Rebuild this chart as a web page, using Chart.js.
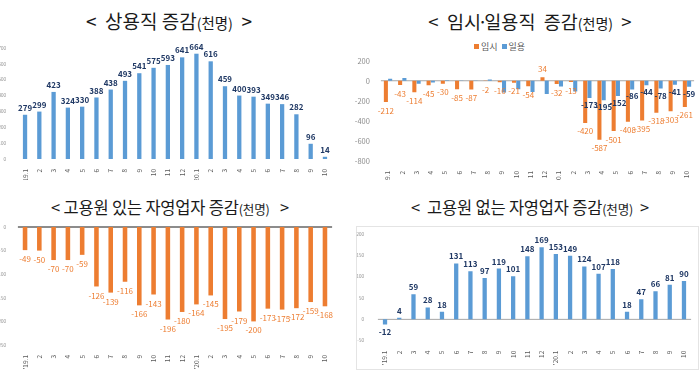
<!DOCTYPE html>
<html><head><meta charset="utf-8">
<script src="https://cdn.jsdelivr.net/npm/chart.js@4.4.0/dist/chart.umd.min.js"></script>
<style>
body{margin:0;width:700px;height:378px;background:#fff;position:relative;overflow:hidden;font-family:'Noto Sans CJK KR','Noto Sans',sans-serif;}
canvas{position:absolute;}
.title{position:absolute;white-space:nowrap;color:#1a1a1a;transform:translateX(-50%);line-height:22px;}
.title small{font-size:0.76em;}
.dot{display:inline-block;margin:0 -3.5px;}
.legend{position:absolute;top:42px;left:474px;font-size:9px;color:#595959;white-space:nowrap;line-height:10px;}
.legend i{display:inline-block;width:5px;height:5px;margin-right:2px;vertical-align:1px;}
.box{position:absolute;left:356px;top:226px;width:341px;height:142px;border:1px solid #e4e4e4;}
</style></head>
<body>
<div class="title" style="left:169px;top:10px;font-size:19px;">&lt;&nbsp;&nbsp;상용직&nbsp;증감<small>(천명)</small>&nbsp;&nbsp;&gt;</div>
<div class="title" style="left:530px;top:10px;font-size:18.5px;">&lt;&nbsp;&nbsp;임시<span class="dot">·</span>일용직&nbsp;&nbsp;증감<small>(천명)</small>&nbsp;&nbsp;&gt;</div>
<div class="title" style="left:170px;top:196px;font-size:16.5px;letter-spacing:-0.2px;">&lt;&nbsp;고용원 있는 자영업자 증감<small>(천명)</small>&nbsp;&nbsp;&nbsp;&gt;</div>
<div class="title" style="left:530px;top:196px;font-size:16.5px;letter-spacing:-0.2px;">&lt;&nbsp;&nbsp;고용원 없는 자영업자 증감<small>(천명)</small>&nbsp;&nbsp;&gt;</div>
<div class="box"></div>
<div class="legend"><i style="background:#ED7D31"></i>임시&nbsp;&nbsp;<i style="background:#5B9BD5"></i>일용</div>
<canvas id="c1" width="345" height="140" style="left:0;top:40px"></canvas>
<canvas id="c2" width="350" height="140" style="left:350px;top:40px"></canvas>
<canvas id="c3" width="345" height="163" style="left:0;top:215px"></canvas>
<canvas id="c4" width="350" height="163" style="left:350px;top:215px"></canvas>
<script>
// ---- data ----
const months = ["'19.1","2","3","4","5","6","7","8","9","10","11","12","'20.1","2","3","4","5","6","7","8","9","10"];
const regular = [279,299,423,324,330,388,438,493,541,575,593,641,664,616,459,400,393,349,346,282,96,14];
const temporary = [-212,-43,-114,-45,-30,-85,-87,-2,-16,-21,-54,34,-32,-13,-420,-587,-501,-408,-395,-318,-303,-261];
const daily = [20,27,-30,-17,5,-2,-3,12,-118,-85,-113,-133,-57,-107,-173,-195,-152,-86,-44,-78,-41,-59];
const selfWithEmp = [-49,-50,-70,-70,-59,-126,-139,-116,-166,-143,-196,-180,-164,-145,-195,-179,-200,-173,-175,-172,-159,-168];
const selfNoEmp = [-12,4,59,28,18,131,113,97,119,101,148,169,153,149,124,107,118,18,47,66,81,90];
const yTicks1 = [0,700,100];
const yTicks2 = [-800,200,200];
const yTicks3 = [-250,0,50];
const yTicks4 = [-50,200,50];

const BLUE = '#5B9BD5', ORANGE = '#ED7D31', NAVY = '#1F3864';
const FONT = "'Noto Sans CJK KR','Noto Sans',sans-serif";

const valueLabels = {
  id:'valueLabels',
  beforeDatasetsDraw(chart){
    const z = chart.options.zeroLine; if(!z) return;
    const ctx = chart.ctx, a = chart.chartArea;
    const y = chart.scales.y.getPixelForValue(0);
    ctx.save();
    ctx.strokeStyle = z.color; ctx.lineWidth = z.width;
    ctx.beginPath(); ctx.moveTo(a.left, y); ctx.lineTo(a.right, y); ctx.stroke();
    ctx.restore();
  },
  afterDatasetsDraw(chart){
    const ctx = chart.ctx;
    chart.data.datasets.forEach((ds,di)=>{
      const cfg = ds.valueLabel; if(!cfg) return;
      const meta = chart.getDatasetMeta(di);
      meta.data.forEach((el,i)=>{
        if(cfg.show && !cfg.show(i)) return;
        const v = ds.data[i];
        const y = v >= 0 ? el.y - cfg.offset : el.y + cfg.offset;
        ctx.save();
        ctx.font = cfg.font; ctx.fillStyle = cfg.color;
        ctx.textAlign = 'center'; ctx.textBaseline = 'middle';
        ctx.fillText(String(v), el.x + (cfg.dx||0), y);
        ctx.restore();
      });
    });
  }
};

function build(id, datasets, yr, opt){
  new Chart(document.getElementById(id), {
    type:'bar',
    data:{labels:months, datasets},
    options:{
      responsive:false, animation:false, devicePixelRatio:1,
      zeroLine: opt.zero ? {color:opt.zero, width:opt.zeroW||1} : null,
      layout:{padding:{left:0, top:opt.top, right:opt.right, bottom:0}},
      plugins:{legend:{display:false}, tooltip:{enabled:false}},
      scales:{
        x:{
          grid:{display:false}, border:{display:false},
          ticks:{color:'#595959', font:{family:FONT,size:6.5}, minRotation:90, maxRotation:90, autoSkip:false, padding:opt.xpad||2},
          afterFit:(s)=>{s.height = opt.xh;}
        },
        y:{
          min:yr[0], max:yr[1],
          grid:{display:false},
          border:{display:false},
          ticks:{stepSize:yr[2], color:'#8c8c8c', font:{family:FONT,size:opt.yfs}, padding:opt.ypad},
          afterFit:(s)=>{s.width = opt.yw;}
        }
      }
    },
    plugins:[valueLabels]
  });
}

build('c1', [{data:regular, backgroundColor:BLUE, barPercentage:0.3, categoryPercentage:1,
  valueLabel:{font:"bold 8px "+FONT, color:NAVY, offset:7}}],
  yTicks1, {top:8, right:12.9, xh:21, yw:17.9, yfs:4.5, ypad:4});

build('c2', [
  {data:temporary, backgroundColor:ORANGE, barPercentage:0.95, categoryPercentage:0.6,
    valueLabel:{font:"8px "+FONT, color:ORANGE, offset:8.5}},
  {data:daily, backgroundColor:BLUE, barPercentage:0.95, categoryPercentage:0.6,
    valueLabel:{font:"bold 8px "+FONT, color:NAVY, offset:7, show:(i)=>i>=14}}
], yTicks2, {top:20.7, right:5.9, xh:19, yw:30.9, yfs:7.5, ypad:3, zero:'#a6a6a6'});

build('c3', [{data:selfWithEmp, backgroundColor:ORANGE, barPercentage:0.32, categoryPercentage:1,
  valueLabel:{font:"8px "+FONT, color:ORANGE, offset:9}}],
  yTicks3, {top:12, right:12.9, xh:33, yw:17.9, yfs:4.5, ypad:4, zero:'#8c8c8c', zeroW:2});

build('c4', [{data:selfNoEmp, backgroundColor:BLUE, barPercentage:0.3, categoryPercentage:1,
  valueLabel:{font:"bold 8px "+FONT, color:NAVY, offset:7}}],
  yTicks4, {top:19, right:8.9, xh:37.3, yw:27.9, yfs:4.5, ypad:6, zero:'#a6a6a6'});
</script>
</body></html>
